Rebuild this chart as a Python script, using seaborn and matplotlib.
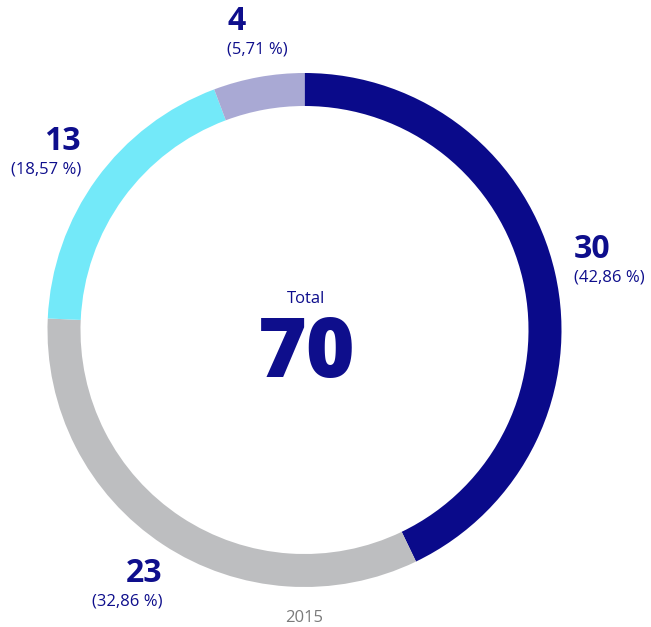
import matplotlib.pyplot as plt
import seaborn as sns
import pandas as pd

# Datos del anillo (año 2015)
categorias = ["A", "B", "C", "D"]
valores = [30, 23, 13, 4]
porcentajes = ["(42,86 %)", "(32,86 %)", "(18,57 %)", "(5,71 %)"]
colores = ["#0a0a8a", "#bdbec0", "#73e9f9", "#a9a9d4"]
anio = "2015"

datos = pd.DataFrame({"categoria": categorias, "valor": valores, "pct": porcentajes})
total = int(datos["valor"].sum())

sns.set_style("white")
plt.rcParams["font.family"] = ["Open Sans", "DejaVu Sans"]

AZUL = "#0e0e8c"
figura = plt.figure(figsize=(6.51, 6.27), dpi=100)
area = figura.add_axes([0, 0, 1, 1])

area.pie(
    datos["valor"],
    colors=colores,
    startangle=90,
    counterclock=False,
    center=(304.5, 297),
    radius=257,
    wedgeprops={"width": 33, "linewidth": 0},
    frame=True,
)
area.set_xlim(0, 651)
area.set_ylim(0, 627)
area.set_aspect("equal")
area.axis("off")

# Posiciones de etiquetas (pixeles)
pos = [(574, 377, "left"), (162, 54, "right"), (81, 485, "right"), (227, 605, "left")]
for (x, y, ha), fila in zip(pos, datos.itertuples()):
    area.text(x, y, str(fila.valor), ha=ha, va="center", fontsize=23,
              fontweight="bold", color=AZUL)
    area.text(x, y - 28, fila.pct, ha=ha, va="center", fontsize=12, color=AZUL)

area.text(306, 328, "Total", ha="center", va="center", fontsize=12, color=AZUL)
area.text(307, 272, str(total), ha="center", va="center", fontsize=60,
          fontweight="heavy", color=AZUL)
area.text(304, 9, anio, ha="center", va="center", fontsize=12, color="#7a7a7a")

figura.savefig("out.png", dpi=100)
plt.close(figura)
